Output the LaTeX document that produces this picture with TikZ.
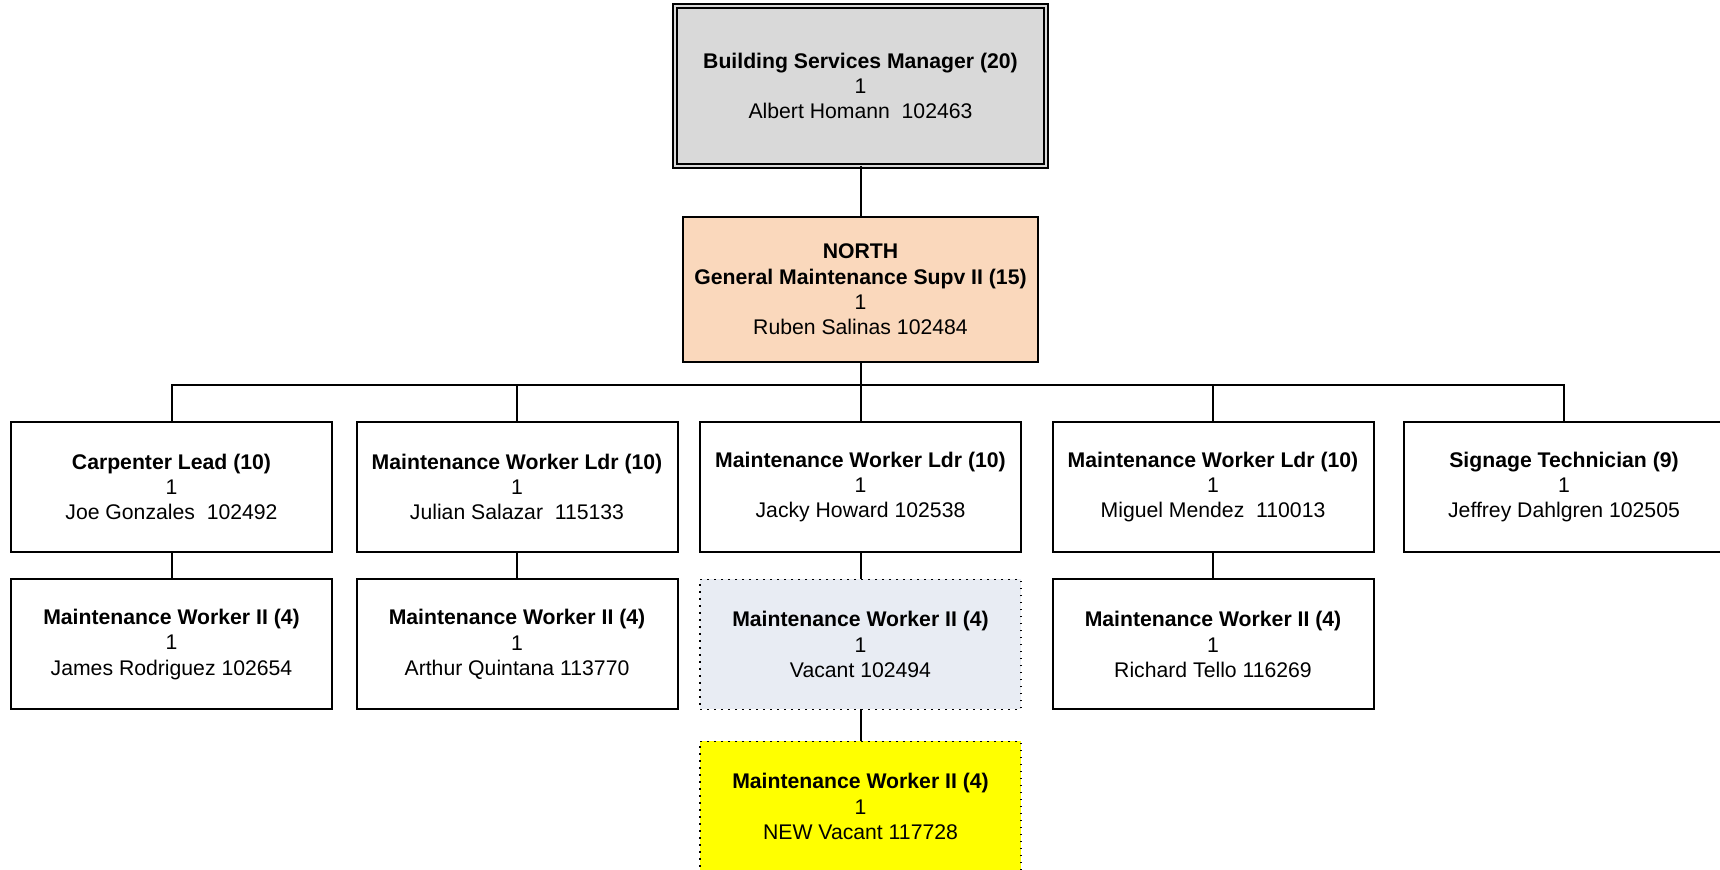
\documentclass[tikz,border=0pt]{standalone}
\usepackage{fontspec}
\setmainfont{Liberation Sans}
\definecolor{topgray}{HTML}{D9D9D9}
\definecolor{peach}{HTML}{FAD8BC}
\definecolor{vacantfill}{HTML}{E8ECF3}
\definecolor{newyellow}{HTML}{FFFF00}
\begin{document}
\begin{tikzpicture}[x=0.5pt,y=-0.5pt]
\tikzset{
  box/.style={draw, line width=1pt, fill=white, minimum width=160.5pt, minimum height=65pt,
    inner sep=0pt, outer sep=0pt, align=center, font=\fontsize{10.6}{12.7}\selectfont},
  vacant/.style={box, fill=vacantfill, line width=0.8pt, dash pattern=on 0.8pt off 2.7pt},
  newbox/.style={vacant, fill=newyellow},
  topbox/.style={box, fill=topgray, minimum width=185.5pt, minimum height=80pt,
    line width=0.75pt, double=topgray, double distance=1.25pt},
  northbox/.style={box, fill=peach, minimum width=177.5pt, minimum height=72.5pt},
  conn/.style={line width=1pt},
}
\clip (0,0) rectangle (1720,870);
\fill[white] (0,0) rectangle (1720,870);

\node[topbox] (mgr) at (860.5,86) {\textbf{Building Services Manager (20)}\\1\\Albert Homann~~102463};
\node[northbox] (north) at (860.5,289.5) {\textbf{NORTH}\\\textbf{General Maintenance Supv II (15)}\\1\\Ruben Salinas 102484};

\node[box] (carp) at (171.5,487) {\textbf{Carpenter Lead (10)}\\1\\Joe Gonzales~~102492};
\node[box] (ldrA) at (517,487) {\textbf{Maintenance Worker Ldr (10)}\\1\\Julian Salazar~~115133};
\node[box] (ldrB) at (860.5,487) {\textbf{Maintenance Worker Ldr (10)}\\1\\Jacky Howard 102538};
\node[box] (ldrC) at (1213,487) {\textbf{Maintenance Worker Ldr (10)}\\1\\Miguel Mendez~~110013};
\node[box] (sign) at (1564,487) {\textbf{Signage Technician (9)}\\1\\Jeffrey Dahlgren 102505};

\node[box] (mwA) at (171.5,644.5) {\textbf{Maintenance Worker II (4)}\\1\\James Rodriguez 102654};
\node[box] (mwB) at (517,644.5) {\textbf{Maintenance Worker II (4)}\\1\\Arthur Quintana 113770};
\node[vacant] (mwC) at (860.5,644.5) {\textbf{Maintenance Worker II (4)}\\1\\Vacant 102494};
\node[box] (mwD) at (1213,644.5) {\textbf{Maintenance Worker II (4)}\\1\\Richard Tello 116269};
\node[newbox] (mwNew) at (860.5,806.5) {\textbf{Maintenance Worker II (4)}\\1\\NEW Vacant 117728};

\coordinate (bus) at (860.5,385);
\draw[conn] (mgr.south) -- (north.north);
\draw[conn] (north.south) -- (bus);
\draw[conn] (carp.north) |- (bus);
\draw[conn] (ldrA.north) |- (bus);
\draw[conn] (ldrB.north) -- (bus);
\draw[conn] (ldrC.north) |- (bus);
\draw[conn] (sign.north) |- (bus);
\draw[conn] (carp.south) -- (mwA.north);
\draw[conn] (ldrA.south) -- (mwB.north);
\draw[conn] (ldrB.south) -- (mwC.north);
\draw[conn] (ldrC.south) -- (mwD.north);
\draw[conn] (mwC.south) -- (mwNew.north);
\end{tikzpicture}
\end{document}
